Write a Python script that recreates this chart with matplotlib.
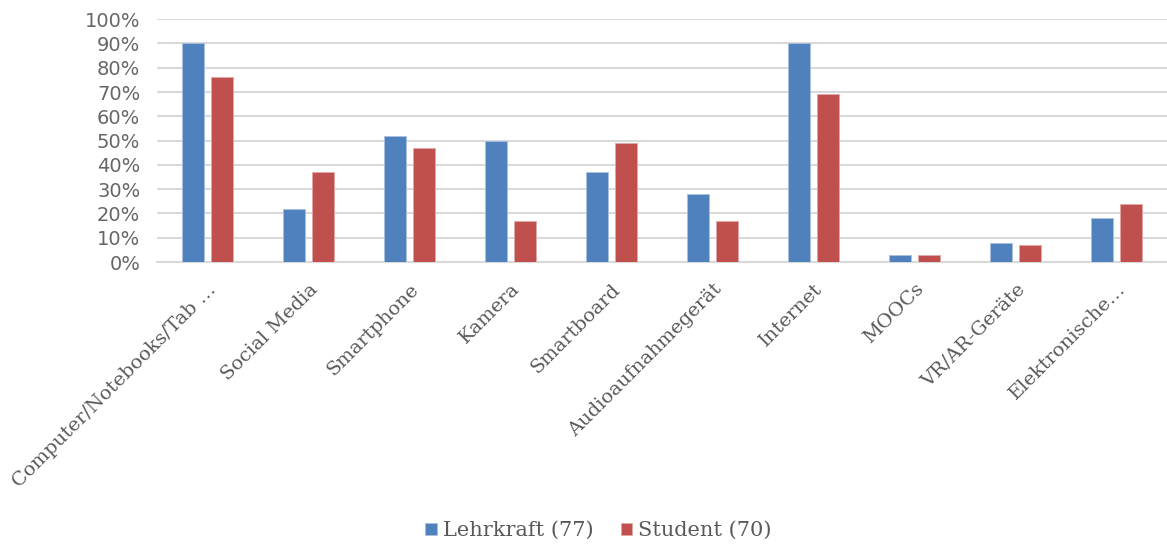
import matplotlib
matplotlib.use("Agg")
import matplotlib.pyplot as plt
import numpy as np
from matplotlib.ticker import PercentFormatter

categories = ["Computer/Notebooks/Tab …", "Social Media", "Smartphone", "Kamera",
              "Smartboard", "Audioaufnahmegerät", "Internet", "MOOCs",
              "VR/AR-Geräte", "Elektronische…"]
lehrkraft = [90, 22, 52, 50, 37, 28, 90, 3, 8, 18]
student = [76, 37, 47, 17, 49, 17, 69, 3, 7, 24]
series_names = ["Lehrkraft (77)", "Student (70)"]
colors = ["#4f81bd", "#c0504d"]

fig = plt.figure(figsize=(11.67, 5.46), dpi=100)
ax = fig.add_axes([0.1345, 0.520, 0.8655, 0.445])

x = np.arange(len(categories))
w = 0.22
off = 0.143
b1 = ax.bar(x - off, lehrkraft, w, color=colors[0], edgecolor="#a9c0e0", linewidth=0.6,
            label=series_names[0], zorder=3)
b2 = ax.bar(x + off, student, w, color=colors[1], edgecolor="#e0a9a8", linewidth=0.6,
            label=series_names[1], zorder=3)

ax.set_xlim(-0.5, len(categories) - 0.5)
ax.set_ylim(0, 100)
ax.set_yticks(np.arange(0, 101, 10))
ax.yaxis.set_major_formatter(PercentFormatter(decimals=0))
ax.grid(axis="y", color="#d9d9d9", linewidth=1.5, zorder=0)
for s in ["top", "right", "left"]:
    ax.spines[s].set_visible(False)
ax.spines["bottom"].set_color("#d9d9d9")
ax.spines["bottom"].set_linewidth(1.5)
ax.tick_params(axis="both", length=0)
ax.tick_params(axis="y", labelsize=14, labelcolor="#666666", pad=12)

ax.set_xticks(x)
ax.set_xticklabels(categories, rotation=45, ha="right", rotation_mode="anchor",
                   fontsize=14, color="#595959", family="DejaVu Serif")
ax.tick_params(axis="x", pad=13)

leg = fig.legend(handles=[b1, b2], labels=series_names, loc="center",
                 bbox_to_anchor=(0.513, 0.028), ncol=2, frameon=False,
                 prop={"family": "DejaVu Serif", "size": 15},
                 handlelength=0.55, handleheight=0.55, handletextpad=0.3,
                 columnspacing=1.3)
for t in leg.get_texts():
    t.set_color("#595959")

fig.savefig("out.png", dpi=100)
